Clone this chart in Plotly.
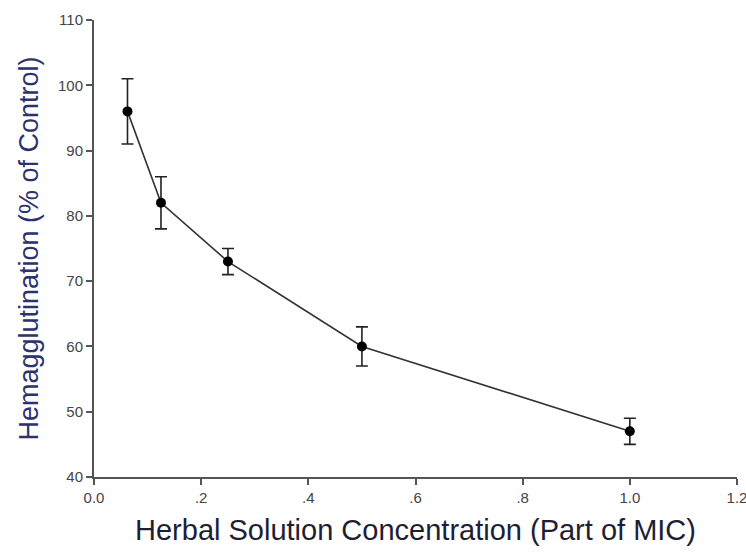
import plotly.graph_objects as go

concentration = [0.0625, 0.125, 0.25, 0.5, 1.0]
hemagglutination = [96, 82, 73, 60, 47]
error = [5, 4, 2, 3, 2]

x_tick_vals = [0.0, 0.2, 0.4, 0.6, 0.8, 1.0, 1.2]
x_tick_text = ["0.0", ".2", ".4", ".6", ".8", "1.0", "1.2"]
y_tick_vals = [40, 50, 60, 70, 80, 90, 100, 110]

FONT = "Liberation Sans, Arial, sans-serif"

fig = go.Figure()
fig.add_trace(go.Scatter(
    x=concentration, y=hemagglutination,
    mode="lines+markers",
    line=dict(color="#333333", width=1.6),
    marker=dict(color="black", size=10),
    error_y=dict(type="data", array=error, visible=True, color="#222222", thickness=1.6, width=6),
    showlegend=False,
))

axis_common = dict(
    showline=True, linecolor="#555555", linewidth=2,
    ticks="outside", ticklen=6, tickwidth=2, tickcolor="#555555",
    showgrid=False, zeroline=False,
    ticklabeloverflow="allow",
    tickfont=dict(family=FONT, size=15, color="#444444"),
)

fig.update_layout(
    width=746, height=556,
    margin=dict(l=94, r=9, t=20, b=79),
    paper_bgcolor="white", plot_bgcolor="white",
    xaxis=dict(range=[0, 1.2], tickvals=x_tick_vals, ticktext=x_tick_text,
               title=dict(text="Herbal Solution Concentration (Part of MIC)",
                          font=dict(family=FONT, size=29, color="#1e1e33"),
                          standoff=15),
               automargin=False, **axis_common),
    yaxis=dict(range=[40, 110], tickvals=y_tick_vals,
               title=dict(text="Hemagglutination (% of Control)",
                          font=dict(family=FONT, size=27, color="#2c3270"),
                          standoff=12),
               automargin=False, **axis_common),
)

fig.write_html("out.html")
